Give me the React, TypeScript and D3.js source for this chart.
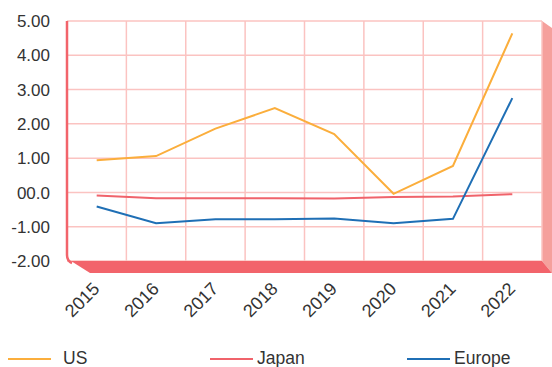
import React, {useEffect, useRef} from 'react'
import * as d3 from 'd3'

const years = ['2015', '2016', '2017', '2018', '2019', '2020', '2021', '2022']
const usValues = [0.94, 1.06, 1.86, 2.46, 1.70, -0.04, 0.77, 4.64]
const japanValues = [-0.09, -0.17, -0.17, -0.17, -0.18, -0.13, -0.12, -0.05]
const europeValues = [-0.41, -0.90, -0.78, -0.78, -0.76, -0.90, -0.77, 2.75]
const yTicks = [-2, -1, 0, 1, 2, 3, 4, 5]
const yTickLabels = ['-2.00', '-1.00', '00.0', '1.00', '2.00', '3.00', '4.00', '5.00']

const seriesNames = ['US', 'Japan', 'Europe']
const seriesColors = ['#fbae3c', '#f0636b', '#1f6fb5']

const W = 552, H = 367
const plot = {left: 67, right: 542, top: 21, bottom: 261}
const depthX = 10, depthY = 12
const font = '"Liberation Sans", Arial, sans-serif'

export default function App() {
  const ref = useRef<SVGSVGElement>(null)

  useEffect(() => {
    const svg = d3.select(ref.current)
    svg.selectAll('*').remove()

    const x = d3.scaleBand().domain(years).range([plot.left, plot.right]).padding(0)
    const y = d3.scaleLinear().domain([-2, 5]).range([plot.bottom, plot.top])
    const cx = (d: string) => (x(d) as number) + x.bandwidth() / 2

    // right 3d wall
    svg.append('path')
      .attr('d', `M${plot.right},${plot.top} L${plot.right + depthX},${plot.top + 7} L${plot.right + depthX},${plot.bottom + depthY} L${plot.right},${plot.bottom} Z`)
      .attr('fill', '#f5a09c')

    // grid
    const grid = svg.append('g')
    grid.selectAll('line.h')
      .data(yTicks)
      .enter()
      .append('line')
      .attr('x1', plot.left).attr('x2', plot.right)
      .attr('y1', d => y(d)).attr('y2', d => y(d))
      .attr('stroke', '#fbc3c1').attr('stroke-width', 1.5)
    grid.selectAll('line.v')
      .data(years)
      .enter()
      .append('line')
      .attr('x1', d => (x(d) as number) + x.bandwidth()).attr('x2', d => (x(d) as number) + x.bandwidth())
      .attr('y1', plot.top).attr('y2', plot.bottom)
      .attr('stroke', '#fbc3c1').attr('stroke-width', 1.5)

    // bottom 3d floor
    svg.append('path')
      .attr('d', `M${plot.left + 4},${plot.bottom} H${plot.right} L${plot.right + depthX},${plot.bottom + depthY} H${plot.left + 23} Z`)
      .attr('fill', '#f2646b')

    // left axis line with rounded foot
    svg.append('path')
      .attr('d', `M${plot.left},${plot.top} V${plot.bottom - 6} Q${plot.left},${plot.bottom} ${plot.left + 5},${plot.bottom + 2}`)
      .attr('fill', 'none')
      .attr('stroke', '#f2646b')
      .attr('stroke-width', 2.5)

    // y labels
    svg.selectAll('text.ylab')
      .data(yTicks)
      .enter()
      .append('text')
      .attr('x', 50)
      .attr('y', d => y(d))
      .attr('dy', '0.36em')
      .attr('text-anchor', 'end')
      .attr('font-family', font)
      .attr('font-size', 17)
      .attr('fill', '#333')
      .text((d, i) => yTickLabels[i])

    // x labels
    svg.selectAll('text.xlab')
      .data(years)
      .enter()
      .append('text')
      .attr('transform', d => `translate(${cx(d) + 4},${plot.bottom + 29}) rotate(-45)`)
      .attr('text-anchor', 'end')
      .attr('font-family', font)
      .attr('font-size', 18)
      .attr('fill', '#333')
      .text(d => d)

    // lines
    const allSeries = [usValues, japanValues, europeValues]
    const line = d3.line<number>()
      .x((d, i) => cx(years[i]))
      .y(d => y(d))
    allSeries.forEach((vals, i) => {
      svg.append('path')
        .datum(vals)
        .attr('d', line)
        .attr('fill', 'none')
        .attr('stroke', seriesColors[i])
        .attr('stroke-width', 2)
    })

    // legend
    const legendX = [8, 210, 407]
    const lg = svg.selectAll('g.legend')
      .data(seriesNames)
      .enter()
      .append('g')
      .attr('transform', (d, i) => `translate(${legendX[i]},359)`)
    lg.append('line')
      .attr('x1', 0).attr('x2', 43)
      .attr('stroke', (d, i) => seriesColors[i])
      .attr('stroke-width', 2)
    lg.append('text')
      .attr('x', (d, i) => (i === 0 ? 55 : 47))
      .attr('y', 5)
      .attr('font-family', font)
      .attr('font-size', 17.5)
      .attr('fill', '#333')
      .text(d => d)
  }, [])

  return (
    <svg ref={ref} width={W} height={H} style={{position: 'absolute', left: 0, top: 0}} />
  )
}
